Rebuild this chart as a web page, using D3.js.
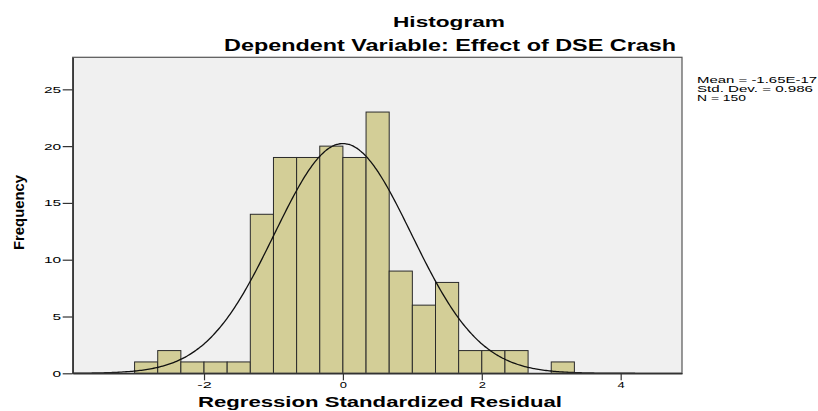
<!DOCTYPE html>
<html>
<head>
<meta charset="utf-8">
<script src="https://cdn.jsdelivr.net/npm/d3@7/dist/d3.min.js"></script>
<style>
  html, body { margin: 0; padding: 0; background: #ffffff; }
  svg { display: block; }
  text { font-family: "Liberation Sans", Arial, Helvetica, sans-serif; fill: #000; }
</style>
</head>
<body>
<div id="chart"></div>
<script>
// ---- data ----
const binLow = [-3, -8/3, -7/3, -2, -5/3, -4/3, -1, -2/3, -1/3, 0, 1/3, 2/3, 1, 4/3, 5/3, 2, 7/3, 8/3, 3];
const binWidth = 1/3;
const counts = [1, 2, 1, 1, 1, 14, 19, 19, 20, 19, 23, 9, 6, 8, 2, 2, 2, 0, 1];
const xTicks = [-2, 0, 2, 4];
const yTicks = [0, 5, 10, 15, 20, 25];
const stats = { mean: -1.65e-17, sd: 0.986, n: 150 };
const statLines = ["Mean = -1.65E-17", "Std. Dev. = 0.986", "N = 150"];
const titleText = "Histogram";
const subtitleText = "Dependent Variable: Effect of DSE Crash";
const xLabel = "Regression Standardized Residual";
const yLabel = "Frequency";

// ---- layout ----
const W = 818, H = 411;
const plot = { left: 72.7, right: 682, top: 57.3, bottom: 373.3 };

const svg = d3.select("#chart").append("svg").attr("width", W).attr("height", H);

const x = d3.scaleLinear().domain([-3.891, 4.883]).range([plot.left, plot.right]);
const y = d3.scaleLinear().domain([0, 27.82]).range([plot.bottom, plot.top]);

// plot background
svg.append("rect")
  .attr("x", plot.left).attr("y", plot.top)
  .attr("width", plot.right - plot.left).attr("height", plot.bottom - plot.top)
  .attr("fill", "#f0f0f0");

// bars
svg.append("g").selectAll("rect")
  .data(binLow.map((b, i) => ({ x0: b, x1: b + binWidth, c: counts[i] })).filter(d => d.c > 0))
  .join("rect")
  .attr("x", d => x(d.x0))
  .attr("y", d => y(d.c))
  .attr("width", d => x(d.x1) - x(d.x0))
  .attr("height", d => y(0) - y(d.c))
  .attr("fill", "#d3ce97")
  .attr("stroke", "#2a2a2a")
  .attr("stroke-width", 1);

// normal curve
const scaleN = stats.n * binWidth / (stats.sd * Math.sqrt(2 * Math.PI));
const pts = d3.range(400).map(i => {
  const xv = x.domain()[0] + (x.domain()[1] - x.domain()[0]) * i / 399;
  const z = (xv - stats.mean) / stats.sd;
  return [xv, scaleN * Math.exp(-0.5 * z * z)];
});
svg.append("path")
  .datum(pts)
  .attr("fill", "none")
  .attr("stroke", "#111")
  .attr("stroke-width", 1.3)
  .attr("d", d3.line().x(d => x(d[0])).y(d => y(d[1])).curve(d3.curveBasis));

// frame
svg.append("rect")
  .attr("x", plot.left).attr("y", plot.top)
  .attr("width", plot.right - plot.left).attr("height", plot.bottom - plot.top)
  .attr("fill", "none").attr("stroke", "#555").attr("stroke-width", 1.2);

// y axis
const gy = svg.append("g").attr("transform", `translate(${plot.left},0)`)
  .call(d3.axisLeft(y).tickValues(yTicks).tickSize(10).tickPadding(1.5).tickSizeOuter(0).tickFormat(d => String(d)));
gy.select(".domain").attr("stroke", "#333").attr("stroke-width", 1.5);
gy.selectAll(".tick line").attr("stroke", "#333").attr("stroke-width", 1.2);
gy.selectAll(".tick text")
  .style("font-family", '"Liberation Sans", Arial, sans-serif')
  .attr("font-size", 9).attr("fill", "#222")
  .attr("textLength", d => String(d).length * 8.6)
  .attr("lengthAdjust", "spacingAndGlyphs");

// x axis
const gx = svg.append("g").attr("transform", `translate(0,${plot.bottom})`)
  .call(d3.axisBottom(x).tickValues(xTicks).tickSize(7).tickPadding(1.8).tickSizeOuter(0).tickFormat(d => String(d)));
gx.select(".domain").attr("stroke", "#333").attr("stroke-width", 1.5);
gx.selectAll(".tick line").attr("stroke", "#333").attr("stroke-width", 1.2);
gx.selectAll(".tick text")
  .style("font-family", '"Liberation Sans", Arial, sans-serif')
  .attr("font-size", 9).attr("fill", "#222")
  .attr("textLength", d => String(d).length * 7.2)
  .attr("lengthAdjust", "spacingAndGlyphs");

// titles
svg.append("text").attr("x", 449).attr("y", 27).attr("text-anchor", "middle")
  .attr("font-size", 15.5).attr("font-weight", "bold")
  .attr("textLength", 112).attr("lengthAdjust", "spacingAndGlyphs")
  .text(titleText);
svg.append("text").attr("x", 450).attr("y", 51).attr("text-anchor", "middle")
  .attr("font-size", 16).attr("font-weight", "bold")
  .attr("textLength", 452).attr("lengthAdjust", "spacingAndGlyphs")
  .text(subtitleText);

// axis labels
svg.append("text").attr("x", 380).attr("y", 407).attr("text-anchor", "middle")
  .attr("font-size", 14).attr("font-weight", "bold")
  .attr("textLength", 364).attr("lengthAdjust", "spacingAndGlyphs")
  .text(xLabel);
svg.append("text").attr("transform", "translate(23.5,212.5) rotate(-90)").attr("text-anchor", "middle")
  .attr("font-size", 15.5).attr("font-weight", "bold")
  .attr("textLength", 75).attr("lengthAdjust", "spacingAndGlyphs")
  .text(yLabel);

// stats box
const statWidths = [120, 116, 49];
svg.append("g").selectAll("text").data(statLines).join("text")
  .attr("x", 697).attr("y", (d, i) => 82.7 + i * 9.3)
  .attr("font-size", 9).attr("fill", "#111")
  .attr("textLength", (d, i) => statWidths[i]).attr("lengthAdjust", "spacingAndGlyphs")
  .text(d => d);
</script>
</body>
</html>
